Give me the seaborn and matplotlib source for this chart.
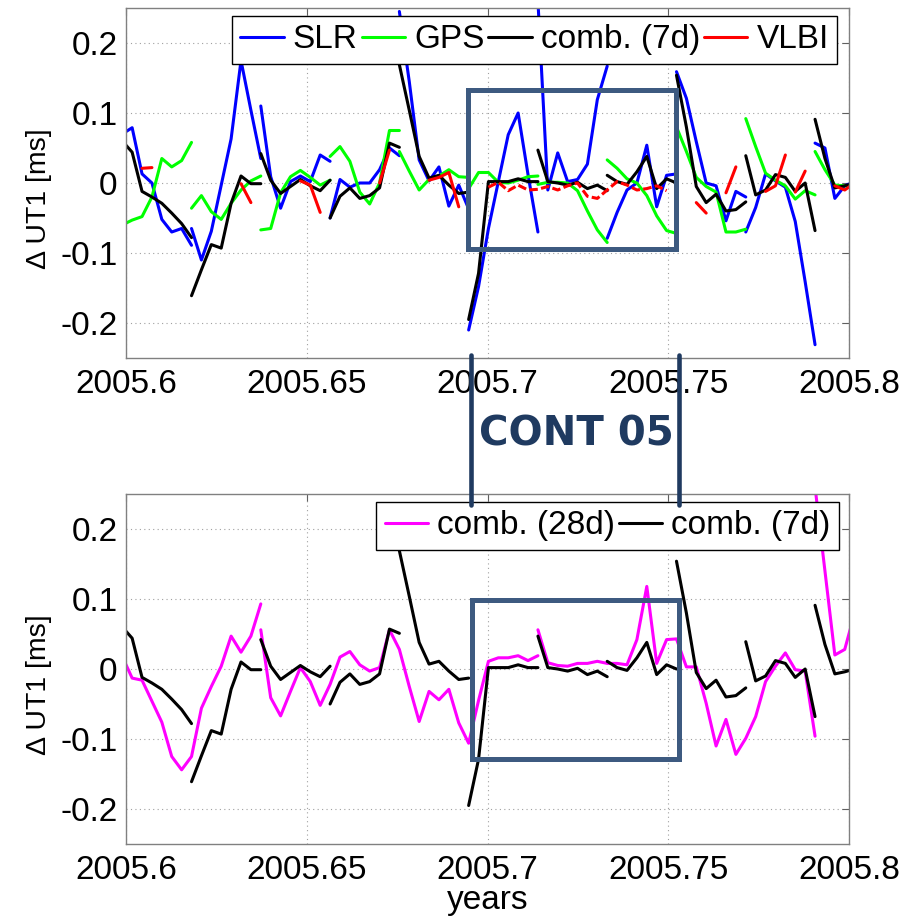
import numpy as np
import pandas as pd
import matplotlib
matplotlib.use("Agg")
import matplotlib.pyplot as plt
import seaborn as sns
from matplotlib.lines import Line2D
from matplotlib.patches import Rectangle
from matplotlib import font_manager as fm

# ---------------- data (Delta UT1 in ms, daily epochs) ----------------
YEAR0 = 2005.6
EPOCH_SHIFT = 0.62          # first epoch offset in days after 2005.6
week_start = [-1, 6, 13, 20, 27, 34, 41, 48, 55, 62, 69]   # day index of weekly arcs

slr = [
    [0.070, 0.079, 0.013, 0.000, -0.052, -0.070, -0.065, -0.089],
    [-0.065, -0.110, -0.069, -0.003, 0.063, 0.175, 0.104, 0.035],
    [0.110, 0.009, -0.036, 0.002, 0.010, 0.002, 0.040, 0.031],
    [-0.050, 0.005, -0.006, 0.000, 0.000, 0.019, 0.050, 0.039],
    [0.245, 0.145, 0.033, 0.003, 0.023, -0.033, -0.003, -0.037],
    [-0.210, -0.148, -0.065, 0.002, 0.069, 0.100, 0.012, -0.070],
    [0.260, -0.010, 0.043, 0.002, 0.005, 0.027, 0.119, 0.167],
    [-0.079, -0.042, -0.010, 0.000, 0.054, -0.034, 0.011, 0.013],
    [0.159, 0.121, 0.059, 0.000, -0.004, -0.054, -0.012, -0.020],
    [-0.070, -0.035, 0.013, 0.003, -0.006, -0.055, -0.141, -0.231],
    [0.057, 0.050, -0.022, -0.004, 0.002],
]
gps = [
    [-0.060, -0.053, -0.048, -0.020, 0.035, 0.023, 0.032, 0.058],
    [-0.036, -0.018, -0.041, -0.052, -0.029, -0.010, 0.003, 0.010],
    [-0.067, -0.065, -0.014, 0.009, 0.018, 0.008, -0.003, 0.004],
    [0.038, 0.052, 0.031, -0.013, -0.030, 0.000, 0.075, 0.075],
    [0.045, 0.017, -0.010, 0.005, 0.010, 0.019, 0.009, 0.008],
    [-0.008, 0.015, 0.015, 0.001, 0.000, 0.004, 0.009, 0.010],
    [-0.002, 0.001, 0.001, 0.000, -0.011, -0.040, -0.067, -0.085],
    [0.033, 0.021, 0.006, 0.000, -0.018, -0.047, -0.068, -0.072],
    [0.080, 0.045, 0.008, -0.005, -0.013, -0.070, -0.070, -0.066],
    [0.092, 0.052, 0.014, 0.004, -0.004, -0.023, -0.011, -0.017],
    [0.045, 0.019, -0.003, -0.004, -0.004],
]
comb7 = [
    [0.060, 0.044, -0.012, -0.020, -0.029, -0.043, -0.058, -0.078],
    [-0.161, -0.124, -0.088, -0.093, -0.029, 0.010, -0.001, -0.001],
    [0.042, 0.004, -0.015, -0.005, 0.005, -0.004, -0.011, 0.004],
    [-0.050, -0.019, -0.007, -0.022, -0.018, -0.007, 0.057, 0.051],
    [0.169, 0.104, 0.038, 0.007, 0.011, -0.003, -0.015, -0.013],
    [-0.195, -0.129, 0.002, 0.002, 0.002, 0.006, 0.002, 0.002],
    [0.047, 0.002, 0.000, -0.003, 0.001, -0.008, -0.003, -0.011],
    [0.011, 0.002, -0.002, 0.016, 0.038, -0.008, 0.006, 0.000],
    [0.154, 0.080, -0.005, -0.028, -0.016, -0.040, -0.038, -0.027],
    [0.039, -0.017, -0.010, 0.012, 0.008, -0.012, 0.000, -0.068],
    [0.091, 0.035, -0.007, -0.004, 0.000],
]
vlbi_start = [1, 11, 17, 25, 30, 57, 60, 64, 67, 71]
vlbi = [
    [0.021, 0.022],
    [-0.001, -0.028],
    [0.003, -0.003, -0.042],
    [0.000, 0.047],
    [0.004, 0.008, 0.015, -0.034],
    [-0.028, -0.043],
    [-0.014, 0.023],
    [-0.012, -0.004, 0.040],
    [-0.013, 0.017],
    [-0.004, -0.010, 0.000],
]
vlbi_cont_start = [36]
vlbi_cont = [
    [-0.006, 0.001, -0.011, -0.003, -0.010, -0.009, -0.005, -0.010, -0.004, 0.000,
     -0.019, -0.022, -0.010, 0.002, -0.003, -0.010, -0.008, -0.004, -0.011],
]
comb28_start = [-1, 13, 41, 69]
comb28 = [
    [0.018, -0.013, -0.016, -0.046, -0.076, -0.125, -0.144, -0.125, -0.056, -0.025,
     0.004, 0.047, 0.024, 0.047, 0.093],
    [0.056, -0.041, -0.067, -0.032, 0.002, -0.018, -0.052, -0.022, 0.017, 0.025,
     0.006, -0.003, 0.002, 0.056, 0.028, -0.025, -0.075, -0.032, -0.044, -0.029,
     -0.077, -0.106, -0.045, 0.011, 0.016, 0.016, 0.019, 0.012, 0.019],
    [0.056, 0.009, 0.005, 0.004, 0.008, 0.008, 0.011, 0.008, 0.008, 0.006,
     0.042, 0.118, 0.008, 0.042, 0.043, 0.003, 0.003, -0.049, -0.110, -0.072,
     -0.122, -0.099, -0.068, -0.018, 0.004, 0.023, -0.001, -0.003, -0.096],
    [0.260, 0.140, 0.020, 0.028, 0.080],
]

# CONT05 campaign window (years) and highlight ranges
cont_x = [2005.6946, 2005.7521]
cont_y_top = [-0.094, 0.133]
cont_x_bot = [2005.6957, 2005.7531]
cont_y_bot = [-0.129, 0.098]

x_ticks = [2005.6, 2005.65, 2005.7, 2005.75, 2005.8]
x_ticklabels = ["2005.6", "2005.65", "2005.7", "2005.75", "2005.8"]
y_ticks = [-0.2, -0.1, 0.0, 0.1, 0.2]
y_ticklabels = ["-0.2", "-0.1", "0", "0.1", "0.2"]


def frame(starts, segs, name):
    rows = []
    for i, (s, vals) in enumerate(zip(starts, segs)):
        for j, v in enumerate(vals):
            rows.append({"year": YEAR0 + (s + j + EPOCH_SHIFT) / 365.25,
                         "value": v, "seg": f"{name}{i}", "series": name})
    return pd.DataFrame(rows)


df_slr = frame(week_start, slr, "SLR")
df_gps = frame(week_start, gps, "GPS")
df_c7 = frame(week_start, comb7, "comb7")
df_vlbi = frame(vlbi_start, vlbi, "VLBI")
df_vlbi_c = frame(vlbi_cont_start, vlbi_cont, "VLBIc")
df_c28 = frame(comb28_start, comb28, "comb28")

# ---------------- style ----------------
sns.set_theme(style="white")
plt.rcParams["font.family"] = ["Liberation Sans", "DejaVu Sans"]
for key in ["text.color", "axes.labelcolor", "xtick.color", "ytick.color"]:
    plt.rcParams[key] = "black"

W, H = 903, 917
fig = plt.figure(figsize=(W / 100, H / 100), dpi=100)
ax1 = fig.add_axes([126 / W, 1 - 358 / H, 723 / W, 350 / H])
ax2 = fig.add_axes([126 / W, 1 - 844 / H, 723 / W, 350 / H])

LW = 2.2
def draw(ax, df, color, **kw):
    sns.lineplot(data=df, x="year", y="value", units="seg", estimator=None,
                 sort=False, color=color, lw=LW, legend=False, ax=ax, **kw)

GREEN = "#00ff00"
draw(ax1, df_slr, "#0000ff")
draw(ax1, df_gps, GREEN)
draw(ax1, df_c7, "black")
draw(ax1, df_vlbi, "#ff0000")
draw(ax1, df_vlbi_c, "#ff0000", linestyle=(0, (2.8, 1.1)))

draw(ax2, df_c28, "#ff00ff")
draw(ax2, df_c7, "black")

for ax in (ax1, ax2):
    ax.set_xlim(2005.6, 2005.8)
    ax.set_ylim(-0.25, 0.25)
    ax.set_xticks(x_ticks)
    ax.set_xticklabels(x_ticklabels)
    ax.set_yticks(y_ticks)
    ax.set_yticklabels(y_ticklabels)
    ax.grid(True, linestyle=(0, (1, 3)), color="#a0a0a0", lw=0.8)
    ax.tick_params(direction="in", top=True, right=True, length=5, width=0.8,
                   color="#606060", labelcolor="black", labelsize=24, pad=8)
    ax.tick_params(axis="y", pad=6)
    for sp in ax.spines.values():
        sp.set_color("#808080")
        sp.set_linewidth(1.0)
    ax.set_xlabel("")
    ax.set_ylabel("\u0394 UT1 [ms]", fontsize=20.5, color="black")
    ax.yaxis.set_label_coords(-0.103, 0.455)

ax2.set_xlabel("years", fontsize=24, labelpad=-1, color="black")

leg_kw = dict(loc="upper right", borderaxespad=0, fontsize=24, handlelength=1.3,
              handletextpad=0.27, columnspacing=0.12, frameon=True, fancybox=False,
              edgecolor="black", framealpha=1, borderpad=0.25)
h1 = [Line2D([], [], color=c, lw=LW) for c in ["#0000ff", GREEN, "black", "#ff0000"]]
lg1 = ax1.legend(h1, ["SLR", "GPS", "comb. (7d)", "VLBI"], ncol=4,
                 bbox_to_anchor=(1 - 12 / 723, 1 - 8 / 350), **leg_kw)
h2 = [Line2D([], [], color=c, lw=LW) for c in ["#ff00ff", "black"]]
lg2 = ax2.legend(h2, ["comb. (28d)", "comb. (7d)"], ncol=2,
                 bbox_to_anchor=(1 - 10 / 723, 1 - 8 / 350), **leg_kw)
for lg in (lg1, lg2):
    lg.get_frame().set_linewidth(1.0)
    lg.set_zorder(10)
    for t in lg.get_texts():
        t.set_color("black")

BOX_C = "#3d5a80"
ax1.add_patch(Rectangle((cont_x[0], cont_y_top[0]), cont_x[1] - cont_x[0],
                        cont_y_top[1] - cont_y_top[0], fill=False, ec=BOX_C,
                        lw=3.6, zorder=6))
ax2.add_patch(Rectangle((cont_x_bot[0], cont_y_bot[0]), cont_x_bot[1] - cont_x_bot[0],
                        cont_y_bot[1] - cont_y_bot[0], fill=False, ec=BOX_C,
                        lw=3.6, zorder=6))

CONN_C = "#1f3a60"
for xp in (471, 679):
    fig.add_artist(Line2D([xp / W, xp / W], [1 - 355 / H, 1 - 505 / H],
                          transform=fig.transFigure, color=CONN_C, lw=3.3, zorder=20))

# narrow bold face for the campaign label when available
try:
    fm.findfont(fm.FontProperties(family="Liberation Sans Narrow", weight="bold"),
                fallback_to_default=False)
    cont_family, cont_size = "Liberation Sans Narrow", 36
except Exception:
    cont_family, cont_size = "DejaVu Sans", 29

fig.text(576.5 / W, 1 - 434 / H, "CONT 05", ha="center", va="center",
         fontsize=cont_size, fontweight="bold", color=CONN_C,
         family=[cont_family, "DejaVu Sans"])

fig.savefig("out.png", dpi=100)
